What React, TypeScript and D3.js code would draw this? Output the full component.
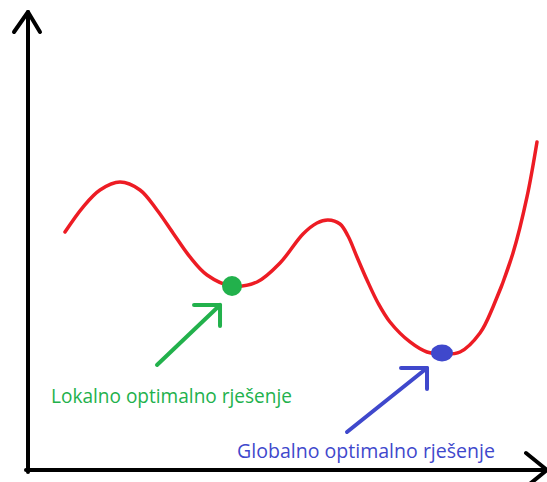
import * as React from 'react';
import { useRef, useEffect } from 'react';
import * as d3 from 'd3';

// curve of the objective function (abstract units 0..100)
const curveX = [7.14, 10.62, 13.9, 17.76, 21.62, 24.9, 27.99, 31.27, 34.56, 39.38, 44.21, 48.65, 53.09, 55.79, 57.92, 60.23, 61.78, 63.51, 65.44, 67.57, 69.88, 73.75, 77.03, 79.92, 83.4, 87.26, 89.77, 93.63, 96.33, 98.26];
const curveY = [51.97, 57.42, 61.14, 62.88, 61.14, 56.77, 51.75, 46.51, 42.58, 40.17, 41.05, 45.2, 51.53, 53.93, 54.59, 53.71, 51.09, 46.51, 41.48, 36.46, 32.31, 27.95, 25.76, 25.33, 25.76, 29.91, 35.59, 47.38, 59.61, 71.62];

const labels = ['Lokalno optimalno rješenje', 'Globalno optimalno rješenje'];
const labelColors = ['#22b14c', '#3f48cc'];
const minX = [39.38, 79.92];
const minY = [40.17, 25.55];
const arrowFromX = [24.9, 61.58];
const arrowFromY = [22.93, 8.3];
const arrowToX = [37.07, 77.03];
const arrowToY = [36.03, 22.27];
const labelX = [4.44, 40.35];
const labelY = [14.63, 2.62];
const labelWidth = [241, 258];

const App = () => {
  const svgRef = useRef(null);
  const width = 547;
  const height = 482;

  useEffect(() => {
    const svg = d3.select(svgRef.current);
    svg.selectAll('*').remove();

    const x = d3.scaleLinear().domain([0, 100]).range([28, 546]);
    const y = d3.scaleLinear().domain([0, 100]).range([470, 12]);

    svg.append('rect').attr('width', width).attr('height', height).attr('fill', '#fff');

    // axes
    const axes = svg.append('g')
      .attr('fill', 'none')
      .attr('stroke', '#000')
      .attr('stroke-width', 4)
      .attr('stroke-linecap', 'round')
      .attr('stroke-linejoin', 'round');
    axes.append('line').attr('x1', x(0)).attr('y1', y(100)).attr('x2', x(0)).attr('y2', y(0) + 2);
    axes.append('line').attr('x1', x(0) - 2).attr('y1', y(0)).attr('x2', x(100)).attr('y2', y(0));
    axes.append('path').attr('d', `M${x(0) - 14},${y(100) + 20}L${x(0)},${y(100)}L${x(0) + 12},${y(100) + 20}`);
    axes.append('path').attr('d', `M${x(100) - 20},${y(0) - 17}L${x(100) + 1},${y(0)}L${x(100) - 20},${y(0) + 17}`);

    // function curve
    const pts = curveX.map((d, i) => [d, curveY[i]]);
    const line = d3.line()
      .x(d => x(d[0]))
      .y(d => y(d[1]))
      .curve(d3.curveCatmullRom);
    svg.append('path')
      .attr('d', line(pts))
      .attr('fill', 'none')
      .attr('stroke', '#ed1c24')
      .attr('stroke-width', 3.5)
      .attr('stroke-linecap', 'round');

    labels.forEach((t, i) => {
      const c = labelColors[i];
      // minimum marker
      svg.append('ellipse')
        .attr('cx', x(minX[i]))
        .attr('cy', y(minY[i]))
        .attr('rx', i === 0 ? 10 : 11)
        .attr('ry', i === 0 ? 10 : 8.5)
        .attr('fill', c);

      // arrow
      const tx = x(arrowToX[i]);
      const ty = y(arrowToY[i]);
      const g = svg.append('g')
        .attr('fill', 'none')
        .attr('stroke', c)
        .attr('stroke-width', 4)
        .attr('stroke-linecap', 'round')
        .attr('stroke-linejoin', 'round');
      g.append('line')
        .attr('x1', x(arrowFromX[i])).attr('y1', y(arrowFromY[i]))
        .attr('x2', tx).attr('y2', ty);
      g.append('path').attr('d', `M${tx - 26},${ty}L${tx},${ty}L${tx},${ty + 21}`);

      // label
      svg.append('text')
        .attr('x', x(labelX[i]))
        .attr('y', y(labelY[i]))
        .attr('fill', c)
        .attr('font-family', '"Open Sans", sans-serif')
        .attr('font-size', 19.5)
        .attr('textLength', labelWidth[i])
        .attr('lengthAdjust', 'spacingAndGlyphs')
        .text(t);
    });
  }, []);

  return (
    <svg
      ref={svgRef}
      width={width}
      height={height}
      style={{ position: 'absolute', left: 0, top: 0 }}
    ></svg>
  );
};

export default App;
